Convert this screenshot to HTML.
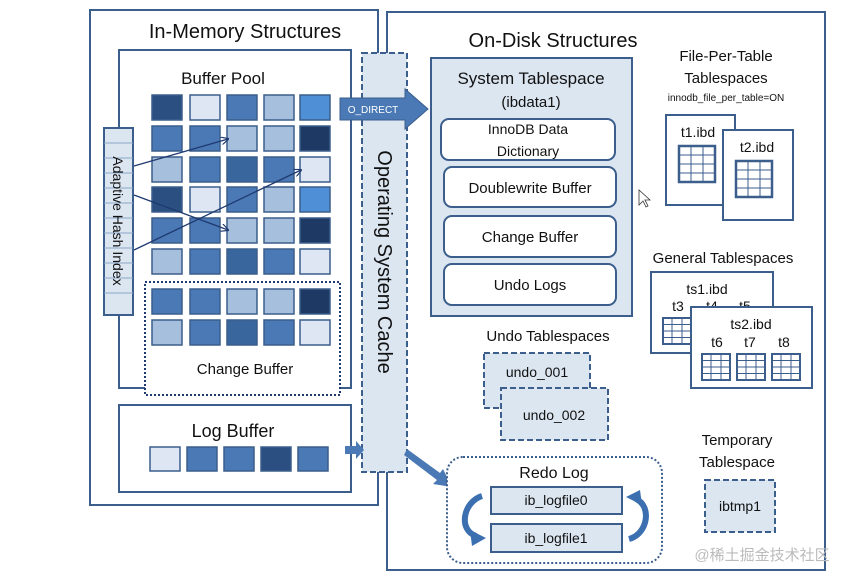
<!DOCTYPE html>
<html><head><meta charset="utf-8"><style>
html,body{margin:0;padding:0;background:#fff}
svg{display:block}
text{font-family:"Liberation Sans","Noto Sans CJK SC",sans-serif;fill:#111}
</style></head><body>
<svg width="861" height="583" viewBox="0 0 861 583" xmlns="http://www.w3.org/2000/svg">
<defs>
<marker id="ah" markerWidth="8" markerHeight="8" refX="7" refY="4" orient="auto" markerUnits="userSpaceOnUse"><path d="M0,0 L8,4 L0,8" fill="none" stroke="#1f3a70" stroke-width="1.2"/></marker>
<g id="grid3"><rect x="0" y="0" width="36" height="36" fill="#fff" stroke="#3b5e8c" stroke-width="2.5"/><path d="M12 0V36M24 0V36M0 9H36M0 18H36M0 27H36" stroke="#3b5e8c" stroke-width="1"/></g>
<g id="gsm"><rect x="0" y="0" width="28" height="26" fill="#fff" stroke="#3b5e8c" stroke-width="2"/><path d="M9 0V26M19 0V26M0 6.5H28M0 13H28M0 19.5H28" stroke="#3b5e8c" stroke-width="1"/></g>
</defs>
<!-- left outer -->
<rect x="90" y="10" width="288" height="495" fill="#fff" stroke="#3b5e8c" stroke-width="2"/>
<text x="245" y="38" font-size="20" text-anchor="middle">In-Memory Structures</text>
<rect x="119" y="50" width="232" height="338" fill="#fff" stroke="#3b5e8c" stroke-width="2"/>
<text x="223" y="84" font-size="17" text-anchor="middle">Buffer Pool</text>
<rect x="145" y="282" width="195" height="113" fill="#fff" stroke="#1f3a70" stroke-width="2" stroke-dasharray="2,2"/>
<text x="245" y="374" font-size="15" text-anchor="middle">Change Buffer</text>
<g stroke="#3b5e8c" stroke-width="1.5">
<!-- rows -->
<rect x="152" y="95" width="30" height="25" fill="#2a4f80"/><rect x="190" y="95" width="30" height="25" fill="#dde6f2"/><rect x="227" y="95" width="30" height="25" fill="#4a79b5"/><rect x="264" y="95" width="30" height="25" fill="#a6bfdc"/><rect x="300" y="95" width="30" height="25" fill="#4f8fd6"/>
<rect x="152" y="126" width="30" height="25" fill="#4a79b5"/><rect x="190" y="126" width="30" height="25" fill="#4a79b5"/><rect x="227" y="126" width="30" height="25" fill="#a6bfdc"/><rect x="264" y="126" width="30" height="25" fill="#a6bfdc"/><rect x="300" y="126" width="30" height="25" fill="#1e3a64"/>
<rect x="152" y="157" width="30" height="25" fill="#a6bfdc"/><rect x="190" y="157" width="30" height="25" fill="#4a79b5"/><rect x="227" y="157" width="30" height="25" fill="#3a669e"/><rect x="264" y="157" width="30" height="25" fill="#4a79b5"/><rect x="300" y="157" width="30" height="25" fill="#dde6f2"/>
<rect x="152" y="187" width="30" height="25" fill="#2a4f80"/><rect x="190" y="187" width="30" height="25" fill="#dde6f2"/><rect x="227" y="187" width="30" height="25" fill="#4a79b5"/><rect x="264" y="187" width="30" height="25" fill="#a6bfdc"/><rect x="300" y="187" width="30" height="25" fill="#4f8fd6"/>
<rect x="152" y="218" width="30" height="25" fill="#4a79b5"/><rect x="190" y="218" width="30" height="25" fill="#4a79b5"/><rect x="227" y="218" width="30" height="25" fill="#a6bfdc"/><rect x="264" y="218" width="30" height="25" fill="#a6bfdc"/><rect x="300" y="218" width="30" height="25" fill="#1e3a64"/>
<rect x="152" y="249" width="30" height="25" fill="#a6bfdc"/><rect x="190" y="249" width="30" height="25" fill="#4a79b5"/><rect x="227" y="249" width="30" height="25" fill="#3a669e"/><rect x="264" y="249" width="30" height="25" fill="#4a79b5"/><rect x="300" y="249" width="30" height="25" fill="#dde6f2"/>
<rect x="152" y="289" width="30" height="25" fill="#4a79b5"/><rect x="190" y="289" width="30" height="25" fill="#4a79b5"/><rect x="227" y="289" width="30" height="25" fill="#a6bfdc"/><rect x="264" y="289" width="30" height="25" fill="#a6bfdc"/><rect x="300" y="289" width="30" height="25" fill="#1e3a64"/>
<rect x="152" y="320" width="30" height="25" fill="#a6bfdc"/><rect x="190" y="320" width="30" height="25" fill="#4a79b5"/><rect x="227" y="320" width="30" height="25" fill="#3a669e"/><rect x="264" y="320" width="30" height="25" fill="#4a79b5"/><rect x="300" y="320" width="30" height="25" fill="#dde6f2"/>
</g>
<!-- AHI -->
<rect x="104" y="128" width="29" height="187" fill="#dce6f1" stroke="#3b5e8c" stroke-width="2"/>
<path d="M104 143H133M104 158H133M104 173H133M104 188H133M104 203H133M104 218H133M104 233H133M104 248H133M104 263H133M104 278H133M104 293H133" stroke="#8aa6c8" stroke-width="1"/>
<text transform="translate(113,221) rotate(90)" font-size="14" text-anchor="middle">Adaptive Hash Index</text>
<g stroke="#1f3a70" stroke-width="1.3" fill="none" marker-end="url(#ah)">
<line x1="134" y1="166" x2="228" y2="139"/>
<line x1="134" y1="195" x2="228" y2="230"/>
<line x1="134" y1="250" x2="301" y2="170"/>
</g>
<!-- log buffer -->
<rect x="119" y="405" width="232" height="87" fill="#fff" stroke="#3b5e8c" stroke-width="2"/>
<text x="233" y="437" font-size="18" text-anchor="middle">Log Buffer</text>
<g stroke="#3b5e8c" stroke-width="1.5">
<rect x="150" y="447" width="30" height="24" fill="#dde6f2"/><rect x="187" y="447" width="30" height="24" fill="#4a79b5"/><rect x="224" y="447" width="30" height="24" fill="#4a79b5"/><rect x="261" y="447" width="30" height="24" fill="#2a4f80"/><rect x="298" y="447" width="30" height="24" fill="#4a79b5"/>
</g>
<!-- right outer -->
<rect x="387" y="12" width="438" height="558" fill="#fff" stroke="#3b5e8c" stroke-width="2"/>
<text x="553" y="47" font-size="20" text-anchor="middle">On-Disk Structures</text>
<!-- OS cache -->
<rect x="362" y="53" width="45" height="419" fill="#dce6f1" stroke="#3b5e8c" stroke-width="2" stroke-dasharray="6,3"/>
<text transform="translate(378,262) rotate(90)" font-size="20" text-anchor="middle">Operating System Cache</text>
<!-- O_DIRECT arrow -->
<path d="M340 98H405V89L428 109L405 129V120H340Z" fill="#4a79b5" stroke="#3b5e8c" stroke-width="1"/>
<text x="373" y="113" font-size="10" fill="#fff" style="fill:#fff" text-anchor="middle">O_DIRECT</text>
<path d="M345 446H356V441L364 450L356 459V454H345Z" fill="#4a79b5"/>
<path d="M407 449L440 473L443 469L452 487L433 484L437 480L404 455Z" fill="#4a79b5"/>
<!-- system tablespace -->
<rect x="431" y="58" width="201" height="258" fill="#dce6f1" stroke="#3b5e8c" stroke-width="2"/>
<text x="531" y="84" font-size="17" text-anchor="middle">System Tablespace</text>
<text x="531" y="107" font-size="15" text-anchor="middle">(ibdata1)</text>
<g fill="#fff" stroke="#3b5e8c" stroke-width="2">
<rect x="441" y="119" width="174" height="41" rx="8"/>
<rect x="444" y="167" width="172" height="40" rx="8"/>
<rect x="444" y="216" width="172" height="41" rx="8"/>
<rect x="444" y="264" width="172" height="41" rx="8"/>
</g>
<text x="528" y="134" font-size="14" text-anchor="middle">InnoDB Data</text>
<text x="528" y="156" font-size="14" text-anchor="middle">Dictionary</text>
<text x="530" y="193" font-size="15" text-anchor="middle">Doublewrite Buffer</text>
<text x="530" y="242" font-size="15" text-anchor="middle">Change Buffer</text>
<text x="530" y="290" font-size="15" text-anchor="middle">Undo Logs</text>
<!-- cursor -->
<path d="M639 190L639 205L643 201L646 207L648 206L645 200L650 200Z" fill="#fff" stroke="#333" stroke-width="0.8"/>
<!-- file per table -->
<text x="726" y="61" font-size="15" text-anchor="middle">File-Per-Table</text>
<text x="726" y="83" font-size="15" text-anchor="middle">Tablespaces</text>
<text x="726" y="101" font-size="10" text-anchor="middle">innodb_file_per_table=ON</text>
<rect x="666" y="115" width="69" height="90" fill="#fff" stroke="#3b5e8c" stroke-width="2"/>
<text x="698" y="137" font-size="14" text-anchor="middle">t1.ibd</text>
<use href="#grid3" x="679" y="146"/>
<rect x="723" y="130" width="70" height="90" fill="#fff" stroke="#3b5e8c" stroke-width="2"/>
<text x="757" y="152" font-size="14" text-anchor="middle">t2.ibd</text>
<use href="#grid3" x="736" y="161"/>
<!-- general -->
<text x="723" y="263" font-size="15" text-anchor="middle">General Tablespaces</text>
<rect x="651" y="272" width="122" height="81" fill="#fff" stroke="#3b5e8c" stroke-width="2"/>
<text x="707" y="294" font-size="14" text-anchor="middle">ts1.ibd</text>
<text x="678" y="311" font-size="14" text-anchor="middle">t3</text>
<text x="712" y="311" font-size="14" text-anchor="middle">t4</text>
<text x="745" y="311" font-size="14" text-anchor="middle">t5</text>
<use href="#gsm" x="663" y="318"/>
<rect x="691" y="307" width="121" height="81" fill="#fff" stroke="#3b5e8c" stroke-width="2"/>
<text x="751" y="329" font-size="14" text-anchor="middle">ts2.ibd</text>
<text x="717" y="347" font-size="14" text-anchor="middle">t6</text>
<text x="750" y="347" font-size="14" text-anchor="middle">t7</text>
<text x="784" y="347" font-size="14" text-anchor="middle">t8</text>
<use href="#gsm" x="702" y="354"/><use href="#gsm" x="737" y="354"/><use href="#gsm" x="772" y="354"/>
<!-- undo -->
<text x="548" y="341" font-size="15" text-anchor="middle">Undo Tablespaces</text>
<rect x="484" y="353" width="106" height="55" fill="#dce6f1" stroke="#3b5e8c" stroke-width="2" stroke-dasharray="6,3"/>
<text x="537" y="377" font-size="14" text-anchor="middle">undo_001</text>
<rect x="501" y="388" width="107" height="52" fill="#dce6f1" stroke="#3b5e8c" stroke-width="2" stroke-dasharray="6,3"/>
<text x="554" y="420" font-size="14" text-anchor="middle">undo_002</text>
<!-- redo -->
<rect x="447" y="457" width="215" height="106" rx="16" fill="#fff" stroke="#3b5e8c" stroke-width="2" stroke-dasharray="2,2"/>
<text x="554" y="478" font-size="16" text-anchor="middle">Redo Log</text>
<rect x="491" y="487" width="131" height="27" fill="#dce6f1" stroke="#3b5e8c" stroke-width="2"/>
<text x="556" y="505" font-size="14" text-anchor="middle">ib_logfile0</text>
<rect x="491" y="524" width="131" height="28" fill="#dce6f1" stroke="#3b5e8c" stroke-width="2"/>
<text x="556" y="543" font-size="14" text-anchor="middle">ib_logfile1</text>
<path d="M482 496C463 502 458 530 476 536" fill="none" stroke="#3b6fb0" stroke-width="6"/>
<path d="M470 530L486 538L472 546Z" fill="#3b6fb0"/>
<path d="M629 539C648 534 652 506 636 499" fill="none" stroke="#3b6fb0" stroke-width="6"/>
<path d="M642 505L626 497L640 490Z" fill="#3b6fb0"/>
<!-- temp -->
<text x="737" y="445" font-size="15" text-anchor="middle">Temporary</text>
<text x="737" y="467" font-size="15" text-anchor="middle">Tablespace</text>
<rect x="705" y="480" width="70" height="52" fill="#dce6f1" stroke="#3b5e8c" stroke-width="2" stroke-dasharray="6,3"/>
<text x="740" y="511" font-size="14" text-anchor="middle">ibtmp1</text>
<text x="762" y="560" font-size="15" text-anchor="middle" style="fill:#bbb">@稀土掘金技术社区</text>
</svg>
</body></html>
